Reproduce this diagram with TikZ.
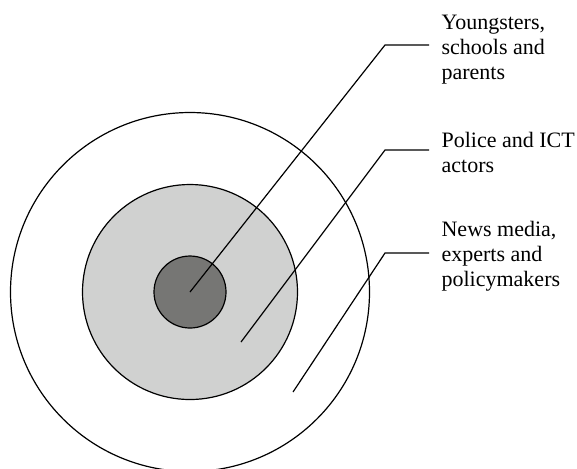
\documentclass[tikz,border=0pt]{standalone}
\usepackage{fontspec}
\setmainfont{Liberation Serif}
\definecolor{ringgray}{RGB}{208,209,208}
\definecolor{coregray}{RGB}{118,118,116}

\begin{document}
\begin{tikzpicture}[x=0.5pt,y=-0.5pt,line width=0.6pt,
	lbl/.style={anchor=base west,align=left,inner xsep=6pt,inner ysep=0pt,font=\fontsize{11}{12.5}\selectfont}]
	\useasboundingbox (0,0) rectangle (577,468);
	% rings, outer first
	\foreach \d/\c/\n in {359/white/outer,215/ringgray/ring,72/coregray/core} {
		\node[circle,draw=black,fill=\c,minimum size=\d*0.5pt,inner sep=0pt] (\n) at (190,292) {};
	}
	% base = last line
	\node[lbl] (youth) at (429,79) {Youngsters,\\schools and\\parents};
	\node[lbl] (police) at (429,172) {Police and ICT\\actors};
	\node[lbl] (media) at (429,286) {News media,\\experts and\\policymakers};
	\coordinate (Y0) at (190,292);
	\coordinate (Y1) at (385,45);
	\coordinate (P0) at (241,342);
	\coordinate (P1) at (385,150);
	\coordinate (M0) at (293,392);
	\coordinate (M1) at (385,253);
	\draw (Y0) -- (Y1) -- (Y1 -| youth.west);
	\draw (P0) -- (P1) -- (P1 -| police.west);
	\draw (M0) -- (M1) -- (M1 -| media.west);
\end{tikzpicture}
\end{document}
